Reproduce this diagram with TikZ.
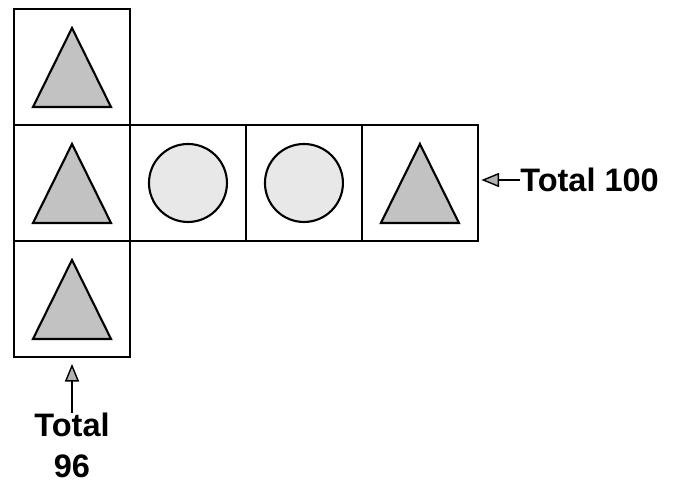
\documentclass[tikz,border=0pt]{standalone}
\usepackage{fontspec}
\setmainfont{Liberation Sans}
\usetikzlibrary{positioning, calc, arrows.meta}
\tikzset{
  cell/.style = {draw=black, line width=1.1pt, minimum size=2.32cm,
    inner sep=0pt, outer sep=0pt},% one square of the cross
  disc/.style = {circle, draw=black, line width=1.2pt, fill=gray!18,
    minimum size=1.56cm, inner sep=0pt},% circle piece
  trifill/.style = {draw=black, line width=1.2pt, fill=gray!48,
    line join=miter},% triangle piece
  total/.style = {font=\bfseries\fontsize{18.5}{23}\selectfont, inner sep=0pt,
    align=center},
  pointer/.style = {line width=0.8pt, -{Triangle[length=10pt, width=8pt, fill=gray!60]}}
}
% triangle piece in the middle of a cell
\newcommand\tripiece[1]{%
  \filldraw[trifill] ($(#1)+(0,-39)$) -- ($(#1)+(39,40)$)
    -- ($(#1)+(-39,40)$) -- cycle;}

\begin{document}
\begin{tikzpicture}[x=0.02cm, y=-0.02cm]
\useasboundingbox (0,0) rectangle (674,491);

\node[cell] (b1) at (72,67) {};
\node[cell, below=0pt of b1] (b2) {};
\node[cell, below=0pt of b2] (b3) {};
\node[cell, right=0pt of b2] (b4) {};
\node[cell, right=0pt of b4] (b5) {};
\node[cell, right=0pt of b5] (b6) {};

\tripiece{b1}
\tripiece{b2}
\tripiece{b3}
\tripiece{b6}
\node[disc] (c1) at (b4) {};
\node[disc] (c2) at (b5) {};

\node[total, anchor=west] (t100) at (520,180) {Total 100};
\node[total, anchor=north] (t96) at (72,413) {Total\\96};

\draw[pointer, shorten >=2pt] (t100.west) -- (t100.west -| b6.east);
\draw[pointer, shorten >=4pt] (t96.north) -- (t96.north |- b3.south);
\end{tikzpicture}
\end{document}
